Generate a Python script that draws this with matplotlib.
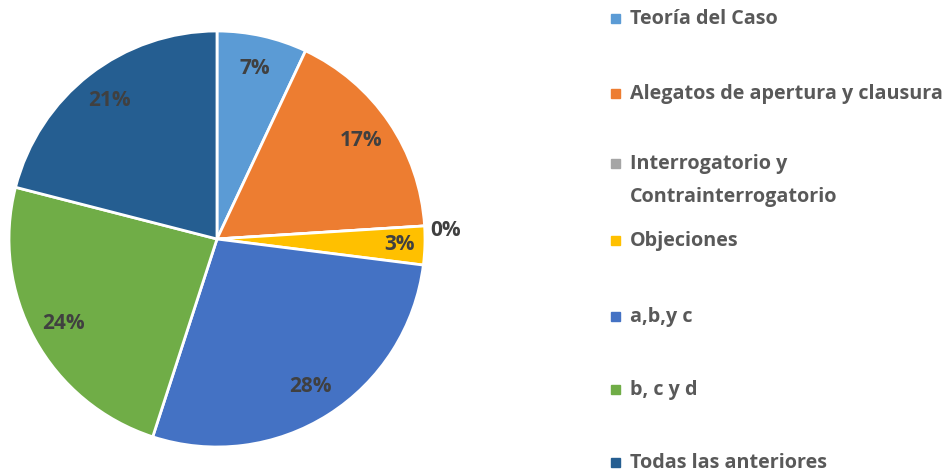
import numpy as np
import matplotlib.pyplot as plt
from matplotlib.patches import Rectangle

# datos del gráfico
categorias = ["Teoría del Caso", "Alegatos de apertura y clausura",
              "Interrogatorio y\nContrainterrogatorio", "Objeciones",
              "a,b,y c", "b, c y d", "Todas las anteriores"]
porcentajes = [7, 17, 0, 3, 28, 24, 21]
colores = ["#5B9BD5", "#ED7D31", "#A5A5A5", "#FFC000", "#4472C4", "#70AD47", "#255E91"]

plt.rcParams['font.family'] = ['Open Sans', 'DejaVu Sans']

fig = plt.figure(figsize=(9.5, 4.73), dpi=100)
ax = fig.add_axes([9 / 950, 26 / 473, 416 / 950, 416 / 473])

wedges, _ = ax.pie(porcentajes, colors=colores, startangle=90, counterclock=False,
                   radius=1.0, wedgeprops=dict(edgecolor='white', linewidth=2))
ax.set_xlim(-1, 1)
ax.set_ylim(-1, 1)
ax.set_aspect('equal')
ax.axis('off')

# etiquetas de porcentaje
for w, p in zip(wedges, porcentajes):
    ang = np.deg2rad((w.theta1 + w.theta2) / 2)
    dy = 0.0
    if p == 0:
        d = 1.1
        dy = -0.03  # Excel la pone un poco más abajo
    elif p < 5:
        d = 0.88
    else:
        d = 0.84
    ax.text(d * np.cos(ang), d * np.sin(ang) + dy, "{}%".format(p), ha='center', va='center',
            fontsize=15, fontweight='bold', color='#404040')

# leyenda dibujada a mano (como Excel)
filas_y = [19, 94, 164, 241, 317, 390, 463]
for cat, col, y in zip(categorias, colores, filas_y):
    fig.patches.append(Rectangle((611 / 950, 1 - (y + 4) / 473), 9 / 950, 9 / 473,
                                 transform=fig.transFigure, color=col))
    fig.text(630 / 950, 1 - y / 473, cat.split("\n")[0], ha='left', va='center',
             fontsize=14.2, fontweight='bold', color='#595959')
    if "\n" in cat:
        fig.text(630 / 950, 1 - (y + 33) / 473, cat.split("\n")[1], ha='left', va='center',
                 fontsize=14.2, fontweight='bold', color='#595959')

fig.savefig("out.png", dpi=100)
